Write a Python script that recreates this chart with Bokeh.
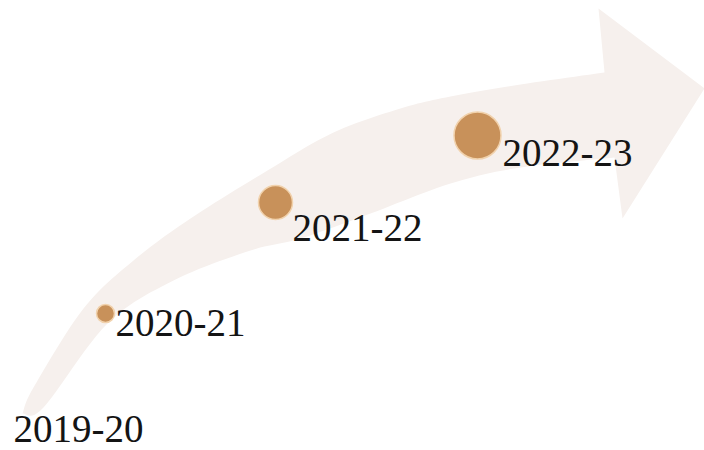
import numpy as np
from bokeh.plotting import figure
from bokeh.models import Range1d, ColumnDataSource
from bokeh.core.properties import value
from bokeh.embed import file_html
from bokeh.resources import INLINE

# --- data ---
years = ["2019-20", "2020-21", "2021-22", "2022-23"]
marker_radius = [0, 9, 17, 23.5]          # growing marker size per year
marker_x = [30, 105, 275, 477]
marker_y = [420, 313, 202, 135]
label_x = [13, 115, 292, 502]
label_y = [428, 322, 227, 152]

# --- decorative arrow outline (page pixel coordinates) ---
upper_x = [22, 33, 83, 133, 190, 267, 333, 400, 450, 520, 604]
upper_y = [413, 387, 308, 260, 218, 170, 132, 108, 96, 84, 72]
lower_x = [614, 520, 450, 370, 300, 250, 173, 107, 43, 22]
lower_y = [157, 167, 183, 213, 238, 250, 280, 323, 407, 413]
head_x = [598, 704, 622]
head_y = [8, 88, 218]


def smooth(xs, ys, n=12):
    pts = np.array(list(zip(xs, ys)), dtype=float)
    pts = np.vstack([pts[0], pts, pts[-1]])
    out = []
    for i in range(1, len(pts) - 2):
        p0, p1, p2, p3 = pts[i - 1], pts[i], pts[i + 1], pts[i + 2]
        for t in np.linspace(0, 1, n, endpoint=False):
            t2, t3 = t * t, t * t * t
            q = 0.5 * ((2 * p1) + (-p0 + p2) * t + (2 * p0 - 5 * p1 + 4 * p2 - p3) * t2
                       + (-p0 + 3 * p1 - 3 * p2 + p3) * t3)
            out.append(q)
    out.append(pts[-2])
    out = np.array(out)
    return list(out[:, 0]), list(out[:, 1])


ux, uy = smooth(upper_x, upper_y)
lx, ly = smooth(lower_x, lower_y)
ax = ux + head_x + lx
ay = uy + head_y + ly

p = figure(width=704, height=450, output_backend="svg", toolbar_location=None,
           x_range=Range1d(0, 704), y_range=Range1d(450, 0), min_border=0)
p.axis.visible = False
p.grid.visible = False
p.outline_line_color = None
p.background_fill_color = "white"
p.border_fill_color = "white"

p.patch(ax, ay, fill_color="#f6f0ed", line_color=None)

src = ColumnDataSource(dict(x=marker_x[1:], y=marker_y[1:], r=marker_radius[1:]))
p.circle(x="x", y="y", radius="r", radius_units="screen", source=src,
         fill_color="#c8915a", line_color="#f1d2ad", line_width=1.5)

tsrc = ColumnDataSource(dict(x=label_x, y=label_y, t=years))
p.text(x="x", y="y", text="t", source=tsrc, text_font=value("Liberation Serif"),
       text_font_size="39px", text_color="#141414", text_align="left",
       text_baseline="alphabetic")

open("out.html", "w").write(file_html(p, INLINE))
